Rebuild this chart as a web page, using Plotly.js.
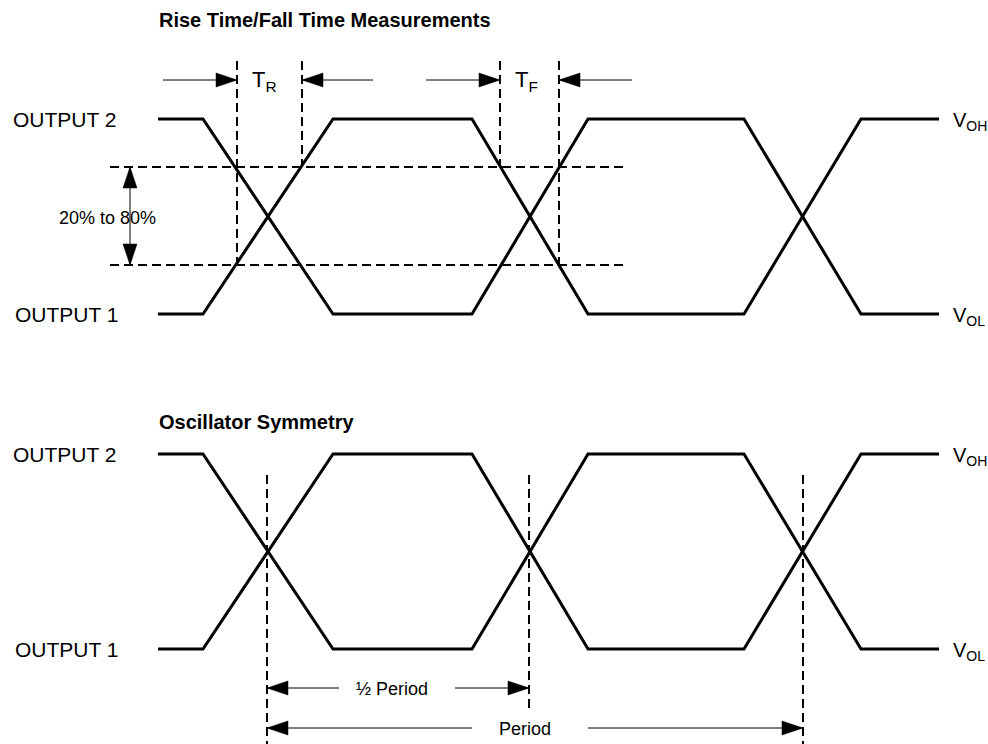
<!DOCTYPE html>
<html>
<head>
<meta charset="utf-8">
<script src="https://cdn.plot.ly/plotly-3.0.1.min.js"></script>
<style>html,body{margin:0;padding:0;background:#fff;}#chart{width:988px;height:744px;}</style>
</head>
<body>
<div id="chart"></div>
<script>
// ---- data (diagram units: x in time units, y in panel units, origin top-left) ----
const edgeX = [158, 203, 333, 472, 588, 744, 861, 939];      // waveform breakpoints
const out2Levels = [1, 1, 0, 0, 1, 1, 0, 0];                 // OUTPUT 2 logic level
const out1Levels = [0, 0, 1, 1, 0, 0, 1, 1];                 // OUTPUT 1 logic level
const panelHighY = [119, 454];                               // V_OH position per panel
const panelLowY  = [314, 649];                               // V_OL position per panel

const thresholdY = [167, 265];                               // 80% and 20% levels
const thresholdSpan = [110, 628];
const riseFallX = [237, 302, 500, 559];                      // T_R / T_F markers
const riseFallBottom = [265, 167, 167, 265];
const riseFallTop = 61;

const symX = [267, 529, 803];                                // crossing markers
const symBottom = [744, 708, 744];
const symTop = 475;

// arrows: [tailX, tipX, y]
const hArrows = [
  [163, 237, 80], [373, 302, 80], [426, 500, 80], [632, 559, 80],
  [339, 267, 688], [455, 529, 688], [472, 267, 728], [588, 803, 728]
];
// vertical double arrow: [x, y1, y2]
const vArrow = [130, 167, 265];

const FONT = "Liberation Sans Narrow, Arial Narrow, Liberation Sans, Arial, sans-serif";

const traces = [];
function line(xs, ys, width, dash) {
  traces.push({type: 'scatter', mode: 'lines', x: xs, y: ys, hoverinfo: 'skip',
    line: {color: '#000', width: width, dash: dash || 'solid'}});
}
function head(tx, ty, dx, dy) {
  const L = 21, Wd = 7;
  const bx = tx - dx * L, by = ty - dy * L;
  const px = -dy, py = dx;
  traces.push({type: 'scatter', mode: 'lines', fill: 'toself', fillcolor: '#000',
    x: [tx, bx + px * Wd, bx - px * Wd, tx], y: [ty, by + py * Wd, by - py * Wd, ty],
    line: {color: '#000', width: 0.5}, hoverinfo: 'skip'});
}

// waveforms
for (let p = 0; p < 2; p++) {
  const hi = panelHighY[p], lo = panelLowY[p];
  line(edgeX, out2Levels.map(v => lo - v * (lo - hi)), 3);
  line(edgeX, out1Levels.map(v => lo - v * (lo - hi)), 3);
}
// threshold dashed lines
thresholdY.forEach(y => line(thresholdSpan, [y, y], 1.8, '9px,5px'));
riseFallX.forEach((x, i) => line([x, x], [riseFallTop, riseFallBottom[i]], 2, '9px,5px'));
symX.forEach((x, i) => line([x, x], [symTop, symBottom[i]], 2, '9px,5px'));

// arrows
hArrows.forEach(a => {
  line([a[0], a[1]], [a[2], a[2]], 1);
  head(a[1], a[2], Math.sign(a[1] - a[0]), 0);
});
line([vArrow[0], vArrow[0]], [vArrow[1], vArrow[2]], 1);
head(vArrow[0], vArrow[1], 0, -1);
head(vArrow[0], vArrow[2], 0, 1);

function txt(x, y, text, size, bold, family) {
  return {x: x, y: y, xref: 'x', yref: 'y', text: text, showarrow: false,
    xanchor: 'left', yanchor: 'middle',
    font: {family: family || FONT, size: size, color: '#000', weight: bold ? 'bold' : 'normal'}};
}
const SANS = "Liberation Sans, Arial, sans-serif";
const annotations = [
  txt(157, 20, 'Rise Time/Fall Time Measurements', 20, true),
  txt(157, 422, 'Oscillator Symmetry', 20, true),
  txt(11, panelHighY[0], 'OUTPUT 2', 21),
  txt(13, panelLowY[0], 'OUTPUT 1', 21),
  txt(11, panelHighY[1], 'OUTPUT 2', 21),
  txt(13, panelLowY[1], 'OUTPUT 1', 21),
  txt(951, panelHighY[0] + 2, 'V<sub>OH</sub>', 20),
  txt(951, panelLowY[0] + 2, 'V<sub>OL</sub>', 20),
  txt(951, panelHighY[1] + 2, 'V<sub>OH</sub>', 20),
  txt(951, panelLowY[1] + 2, 'V<sub>OL</sub>', 20),
  txt(250, 81, 'T<sub>R</sub>', 22, false, SANS),
  txt(513, 81, 'T<sub>F</sub>', 22, false, SANS),
  txt(57, 218, '20% to 80%', 18),
  txt(354, 689, '½ Period', 18),
  txt(497, 729, 'Period', 18)
];

const layout = {
  width: 988, height: 744,
  margin: {l: 0, r: 0, t: 0, b: 0},
  paper_bgcolor: '#fff', plot_bgcolor: '#fff',
  showlegend: false,
  xaxis: {range: [0, 988], visible: false, fixedrange: true},
  yaxis: {range: [744, 0], visible: false, fixedrange: true},
  annotations: annotations
};
Plotly.newPlot('chart', traces, layout, {staticPlot: true, displayModeBar: false});
</script>
</body>
</html>
